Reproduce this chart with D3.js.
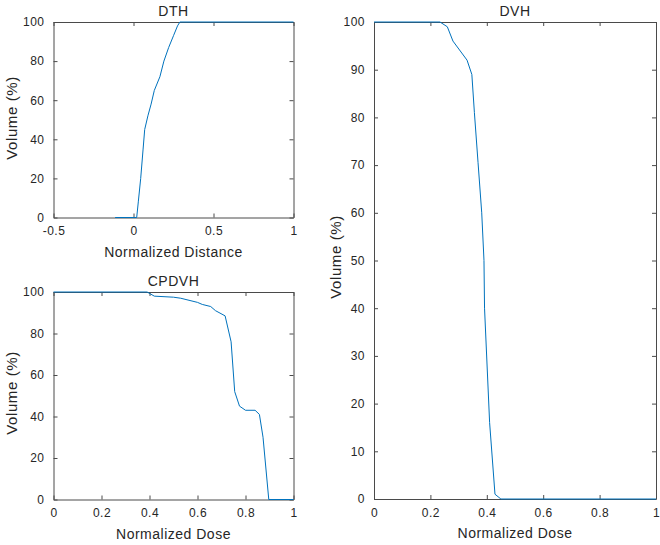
<!DOCTYPE html>
<html><head><meta charset="utf-8">
<script src="https://cdn.jsdelivr.net/npm/d3@7"></script>
<style>
body{margin:0;background:#fff;}
text{font-family:"Liberation Sans",Arial,sans-serif;fill:#262626;}
</style></head>
<body><svg id="c" width="660" height="545"></svg>
<script>
// ---- data ----
const dthX = [-0.115, 0.02, 0.03, 0.045, 0.06, 0.07, 0.09, 0.11, 0.13, 0.165, 0.19, 0.22, 0.25, 0.275, 0.29, 1];
const dthY = [0, 0, 8, 20, 35, 45, 52, 58, 65, 72, 80, 87, 93, 98, 100, 100];
const cpdvhX = [0, 0.39, 0.42, 0.5, 0.53, 0.6, 0.62, 0.655, 0.675, 0.715, 0.74, 0.755, 0.775, 0.8, 0.84, 0.858, 0.873, 0.897, 1];
const cpdvhY = [100, 100, 98, 97.5, 97, 95, 94, 93, 91, 88.5, 76, 52, 45, 43, 43, 41, 30, 0, 0];
const dvhX = [0, 0.234, 0.26, 0.28, 0.33, 0.347, 0.356, 0.369, 0.382, 0.39, 0.392, 0.41, 0.429, 0.45, 1];
const dvhY = [100, 100, 99, 96, 92, 89, 81, 70.5, 60, 50, 40, 16, 1, 0, 0];
const dthXTicks = [-0.5, 0, 0.5, 1];
const dthXLabels = ["-0.5", "0", "0.5", "1"];
const doseTicks = [0, 0.2, 0.4, 0.6, 0.8, 1];
const doseLabels = ["0", "0.2", "0.4", "0.6", "0.8", "1"];
const vol20Ticks = [0, 20, 40, 60, 80, 100];
const vol10Ticks = [0, 10, 20, 30, 40, 50, 60, 70, 80, 90, 100];

const svg = d3.select("#c");
const axisColor = "#4a4a4a";
const lineColor = "#0072BD";

function panel(o) {
  const g = svg.append("g");
  const x = d3.scaleLinear().domain(o.xdom).range([o.l, o.r]);
  const y = d3.scaleLinear().domain([0, 100]).range([o.b, o.t]);
  const tl = 4;
  const fmtX = v => o.xLabels[o.xTicks.indexOf(v)];
  const ab = g.append("g").attr("transform", `translate(0,${o.b})`)
    .call(d3.axisBottom(x).tickValues(o.xTicks).tickFormat(fmtX).tickSizeInner(-tl).tickSizeOuter(0).tickPadding(9));
  const at = g.append("g").attr("transform", `translate(0,${o.t})`)
    .call(d3.axisTop(x).tickValues(o.xTicks).tickFormat("").tickSizeInner(-tl).tickSizeOuter(0));
  const al = g.append("g").attr("transform", `translate(${o.l},0)`)
    .call(d3.axisLeft(y).tickValues(o.yTicks).tickFormat(d => String(d)).tickSizeInner(-tl).tickSizeOuter(0).tickPadding(9));
  const ar = g.append("g").attr("transform", `translate(${o.r},0)`)
    .call(d3.axisRight(y).tickValues(o.yTicks).tickFormat("").tickSizeInner(-tl).tickSizeOuter(0));
  [ab, at, al, ar].forEach(a => {
    a.selectAll("path.domain").attr("stroke", axisColor).attr("stroke-width", 1);
    a.selectAll("line").attr("stroke", axisColor).attr("stroke-width", 1);
    a.selectAll("text").style("font-family", '"Liberation Sans",Arial,sans-serif')
      .style("font-size", "12px").style("letter-spacing", "0.5px").attr("fill", "#262626");
  });
  const line = d3.line().x(d => x(d[0])).y(d => y(d[1]));
  g.append("path").datum(o.xs.map((v, i) => [v, o.ys[i]]))
    .attr("d", line).attr("fill", "none").attr("stroke", lineColor).attr("stroke-width", 1);
  g.append("text").attr("x", (o.l + o.r) / 2).attr("y", o.t - 6).attr("text-anchor", "middle")
    .style("font-size", "14px").style("letter-spacing", "0.5px").text(o.title);
  g.append("text").attr("x", (o.l + o.r) / 2).attr("y", o.b + 39).attr("text-anchor", "middle")
    .style("font-size", "14px").style("letter-spacing", "0.5px").text(o.xlab);
  g.append("text").attr("transform", `translate(${o.yl},${o.yc}) rotate(-90)`)
    .attr("text-anchor", "middle").style("font-size", "15px").style("letter-spacing", "0.6px").text("Volume (%)");
}

panel({l: 53.5, r: 293.5, t: 22, b: 217.5, xdom: [-0.5, 1], xTicks: dthXTicks, xLabels: dthXLabels,
  yTicks: vol20Ticks, xs: dthX, ys: dthY, title: "DTH", xlab: "Normalized Distance", yl: 17, yc: 118});
panel({l: 53.5, r: 293.5, t: 292, b: 499.5, xdom: [0, 1], xTicks: doseTicks, xLabels: doseLabels,
  yTicks: vol20Ticks, xs: cpdvhX, ys: cpdvhY, title: "CPDVH", xlab: "Normalized Dose", yl: 17, yc: 393});
panel({l: 374, r: 656, t: 22, b: 499, xdom: [0, 1], xTicks: doseTicks, xLabels: doseLabels,
  yTicks: vol10Ticks, xs: dvhX, ys: dvhY, title: "DVH", xlab: "Normalized Dose", yl: 341, yc: 257});
</script></body></html>
